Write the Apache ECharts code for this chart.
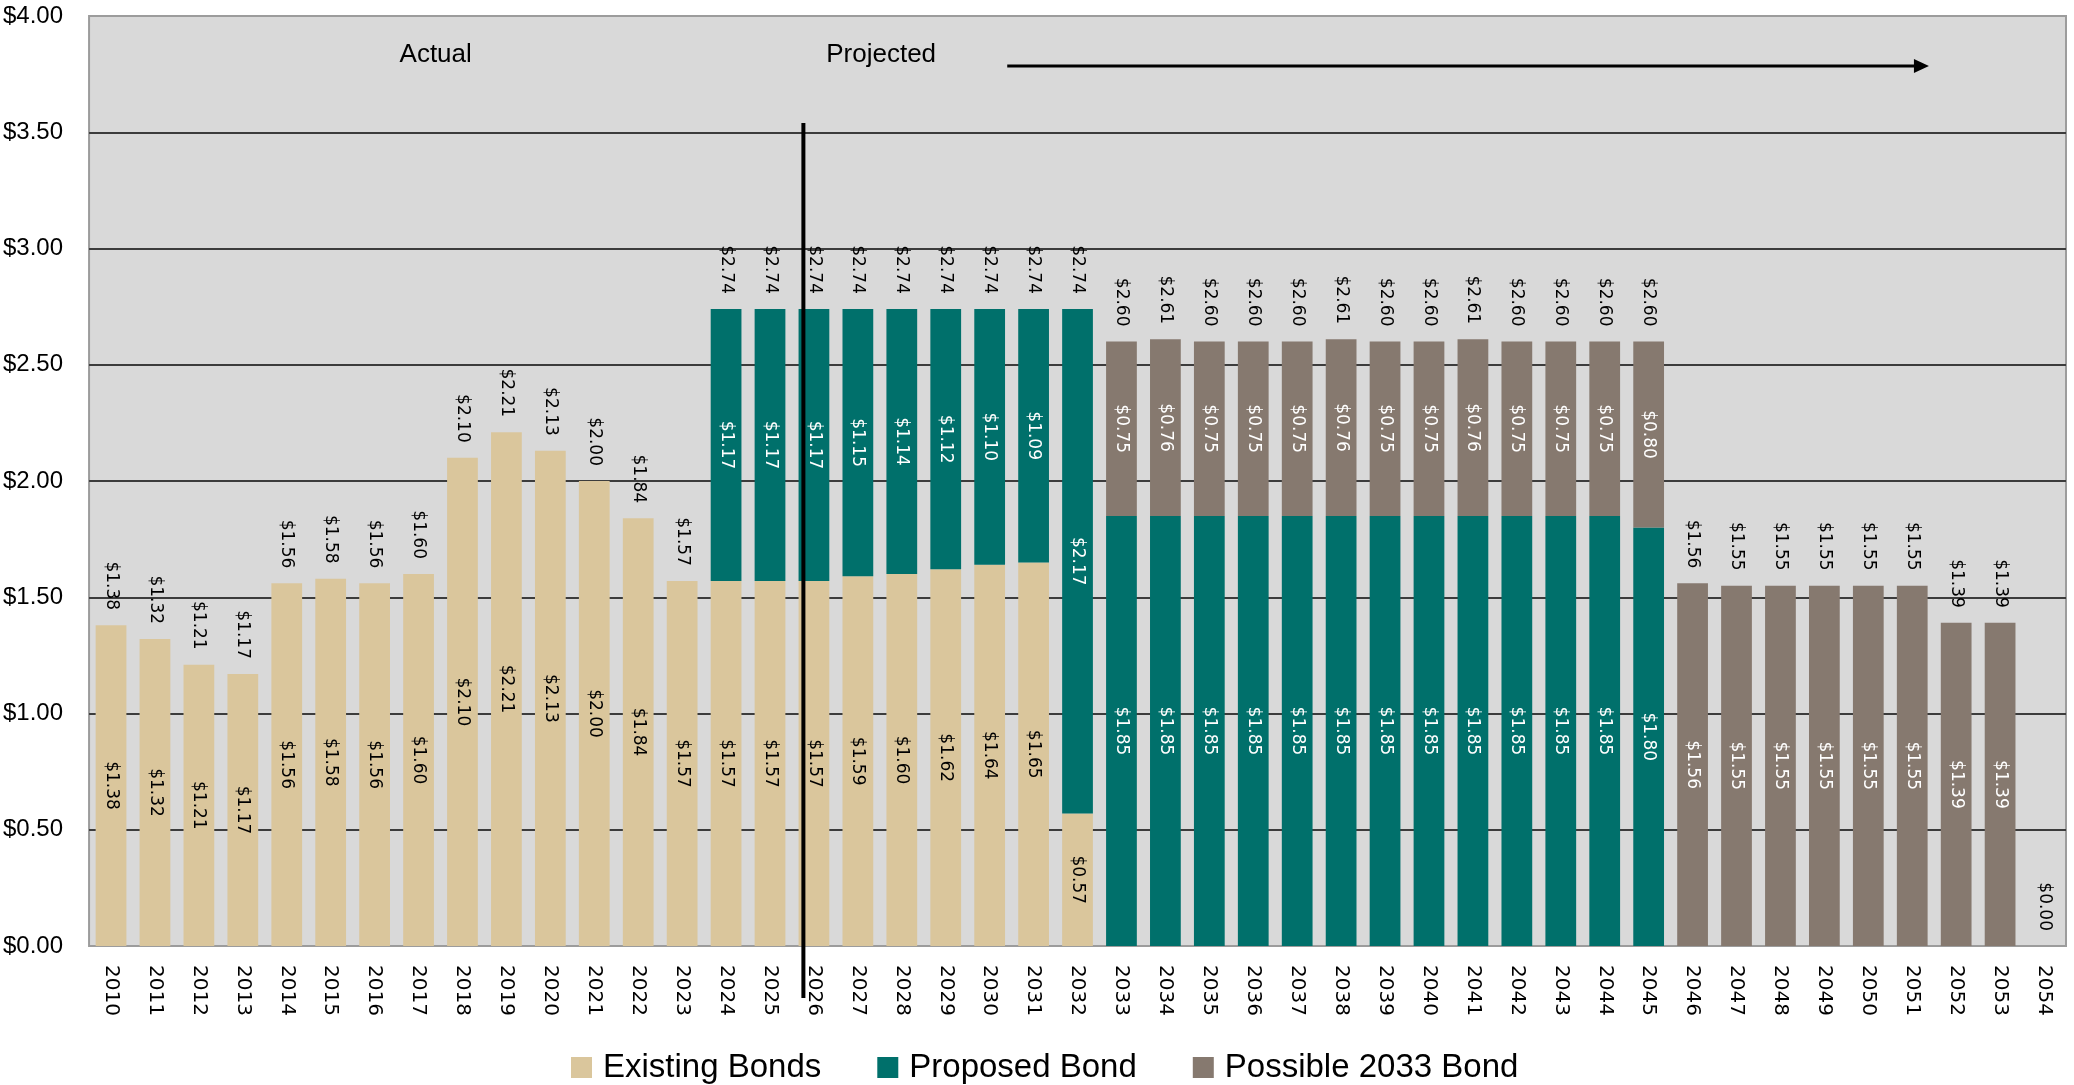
<!DOCTYPE html>
<html>
<head>
<meta charset="utf-8">
<script src="https://cdn.jsdelivr.net/npm/echarts@6/dist/echarts.min.js"></script>
<style>
html,body{margin:0;padding:0;background:#fff;}
#c{width:2074px;height:1085px;}
</style>
</head>
<body>
<div id="c"></div>
<script>
const years = ['2010','2011','2012','2013','2014','2015','2016','2017','2018','2019','2020','2021','2022','2023','2024','2025','2026','2027','2028','2029','2030','2031','2032','2033','2034','2035','2036','2037','2038','2039','2040','2041','2042','2043','2044','2045','2046','2047','2048','2049','2050','2051','2052','2053','2054'];
const existingBonds = [1.38,1.32,1.21,1.17,1.56,1.58,1.56,1.60,2.10,2.21,2.13,2.00,1.84,1.57,1.57,1.57,1.57,1.59,1.60,1.62,1.64,1.65,0.57,null,null,null,null,null,null,null,null,null,null,null,null,null,null,null,null,null,null,null,null,null,null];
const proposedBond = [null,null,null,null,null,null,null,null,null,null,null,null,null,null,1.17,1.17,1.17,1.15,1.14,1.12,1.10,1.09,2.17,1.85,1.85,1.85,1.85,1.85,1.85,1.85,1.85,1.85,1.85,1.85,1.85,1.80,null,null,null,null,null,null,null,null,null];
const possible2033Bond = [null,null,null,null,null,null,null,null,null,null,null,null,null,null,null,null,null,null,null,null,null,null,null,0.75,0.76,0.75,0.75,0.75,0.76,0.75,0.75,0.76,0.75,0.75,0.75,0.80,1.56,1.55,1.55,1.55,1.55,1.55,1.39,1.39,null];
const totals = [1.38,1.32,1.21,1.17,1.56,1.58,1.56,1.60,2.10,2.21,2.13,2.00,1.84,1.57,2.74,2.74,2.74,2.74,2.74,2.74,2.74,2.74,2.74,2.60,2.61,2.60,2.60,2.60,2.61,2.60,2.60,2.61,2.60,2.60,2.60,2.60,1.56,1.55,1.55,1.55,1.55,1.55,1.39,1.39,0.00];
const yTicks = [0,0.5,1,1.5,2,2.5,3,3.5,4];

const money = v => '$' + Number(v).toFixed(2);
const labelFont = 'DejaVu Sans';

function innerLabel(color){
  return {show:true, position:'inside', rotate:-90, fontFamily:labelFont, fontSize:17, color:color,
    formatter: p => money(p.value)};
}

const chart = echarts.init(document.getElementById('c'), null, {renderer:'canvas'});
chart.setOption({
  animation:false,
  grid:{left:87, right:8, top:16, bottom:139, show:true, backgroundColor:'#D9D9D9', borderColor:'#9C9C9C', borderWidth:2, containLabel:false},
  legend:{
    data:['Existing Bonds','Proposed Bond','Possible 2033 Bond'],
    left:566, top:1046, itemWidth:21, itemHeight:21, itemGap:56, icon:'rect',
    textStyle:{fontFamily:'Liberation Sans', fontSize:33, color:'#000', padding:[0,0,0,6]}
  },
  xAxis:{
    type:'category', data:years,
    axisTick:{show:false}, axisLine:{show:false},
    axisLabel:{interval:0, rotate:-90, fontFamily:labelFont, fontSize:20, color:'#000', margin:19}
  },
  yAxis:{
    type:'value', min:yTicks[0], max:yTicks[yTicks.length-1], interval:0.5,
    axisLine:{show:false}, axisTick:{show:false},
    axisLabel:{formatter: v => money(v), fontFamily:'Liberation Sans', fontSize:24, color:'#000', margin:26},
    splitLine:{show:true, showMinLine:false, showMaxLine:false, lineStyle:{color:'#3C3C3C', width:2}}
  },
  series:[
    {name:'Existing Bonds', type:'bar', stack:'a', data:existingBonds, itemStyle:{color:'#DAC69C'}, label:innerLabel('#000'), barCategoryGap:'30%'},
    {name:'Proposed Bond', type:'bar', stack:'a', data:proposedBond, itemStyle:{color:'#00706B'}, label:innerLabel('#fff')},
    {name:'Possible 2033 Bond', type:'bar', stack:'a', data:possible2033Bond, itemStyle:{color:'#86796F'}, label:innerLabel('#fff')},
    {name:'Total', type:'bar', data:totals, barGap:'-100%', barCategoryGap:'30%', z:1,
      itemStyle:{color:'rgba(0,0,0,0)'},
      label:{show:true, position:'top', distance:15, rotate:-90, align:'right', verticalAlign:'middle',
        fontFamily:labelFont, fontSize:17, color:'#000', formatter: p => money(p.value)}}
  ]
});

// annotations positioned through the axes
const c0 = chart.convertToPixel({xAxisIndex:0}, 0);
const c1 = chart.convertToPixel({xAxisIndex:0}, 1);
const bw = c1 - c0;
const fx = p => c0 + (p - 0.5) * bw;           // p: position in category units from the left edge
const fy = v => chart.convertToPixel({yAxisIndex:0}, v);

const arrowY = fy(3.785), ax0 = fx(20.9), ax1 = fx(41.88);
chart.setOption({
  graphic:[
    {type:'text', x:fx(7.89), y:fy(3.835), style:{text:'Actual', fontFamily:'Liberation Sans', fontSize:26, fill:'#000', textAlign:'center', textVerticalAlign:'middle'}},
    {type:'text', x:fx(18.03), y:fy(3.835), style:{text:'Projected', fontFamily:'Liberation Sans', fontSize:26, fill:'#000', textAlign:'center', textVerticalAlign:'middle'}},
    {type:'line', shape:{x1:ax0, y1:arrowY, x2:ax1-14, y2:arrowY}, style:{stroke:'#000', lineWidth:3}},
    {type:'polygon', shape:{points:[[ax1-15, arrowY-7],[ax1, arrowY],[ax1-15, arrowY+7]]}, style:{fill:'#000'}},
    {type:'line', shape:{x1:fx(16.26), y1:fy(3.54), x2:fx(16.26), y2:fy(-0.224)}, style:{stroke:'#000', lineWidth:4}, z:100}
  ]
});
</script>
</body>
</html>
